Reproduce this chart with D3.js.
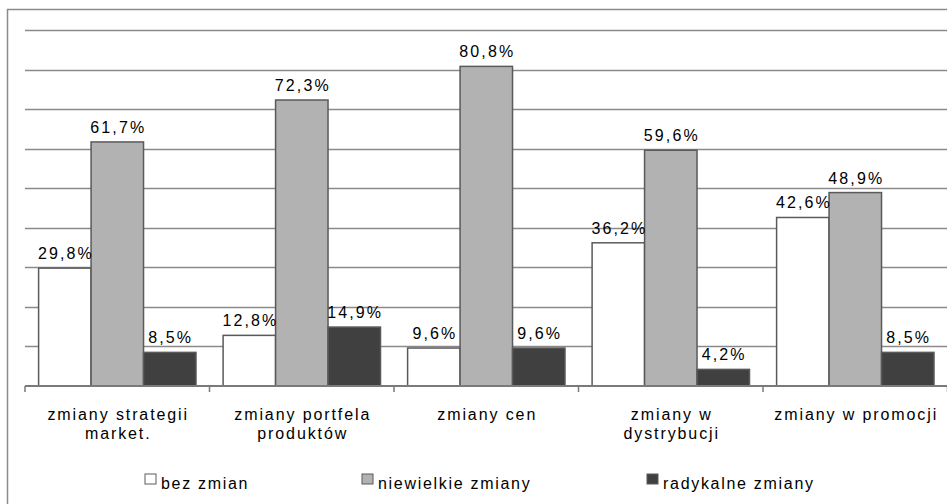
<!DOCTYPE html>
<html lang="pl">
<head>
  <meta charset="UTF-8">
  <title>Zmiany</title>
  <script src="https://d3js.org/d3.v7.min.js"></script>
  <style>
    body { margin: 0; background: #fff; }
    svg { display: block; font-family: "Liberation Sans", Arial, sans-serif; }
    .val { font-size: 16px; letter-spacing: 2.1px; fill: #000; }
    .cat { font-size: 16px; letter-spacing: 1.9px; fill: #000; }
    .leg { font-size: 16px; letter-spacing: 1.7px; fill: #000; }
  </style>
</head>
<body>
  <svg width="947" height="504"></svg>

  <script>
    // data
    const categories = [
      ["zmiany strategii", "market."],
      ["zmiany portfela", "produktów"],
      ["zmiany cen"],
      ["zmiany w", "dystrybucji"],
      ["zmiany w promocji"]
    ];
    const series = ["bez zmian", "niewielkie zmiany", "radykalne zmiany"];
    const bezZmian = [29.8, 12.8, 9.6, 36.2, 42.6];
    const niewielkie = [61.7, 72.3, 80.8, 59.6, 48.9];
    const radykalne = [8.5, 14.9, 9.6, 4.2, 8.5];
    const yTicks = [0, 10, 20, 30, 40, 50, 60, 70, 80, 90];

    const values = [bezZmian, niewielkie, radykalne];
    const fills = ["#ffffff", "#b2b2b2", "#404040"];
    const fmt = v => v.toFixed(1).replace(".", ",") + "%";

    const svg = d3.select("svg");

    // outer chart border (cropped on right and bottom)
    svg.append("rect")
      .attr("x", 7.5).attr("y", 9.5)
      .attr("width", 1000).attr("height", 600)
      .attr("fill", "none")
      .attr("stroke", "#8c8c8c")
      .attr("stroke-width", 1.5);

    const left = 25, band = 184.5;
    const catKeys = categories.map((c, i) => i);
    const x = d3.scaleBand()
      .domain(catKeys)
      .range([left, left + band * categories.length]);

    const xs = d3.scaleBand()
      .domain(series)
      .range([13.6, 171]);

    const y = d3.scaleLinear()
      .domain([0, 90])
      .range([386, 30]);

    // gridlines
    svg.append("g")
      .selectAll("line")
      .data(yTicks.slice(1))
      .join("line")
      .attr("x1", left).attr("x2", 960)
      .attr("y1", d => Math.round(y(d)) + 0.5)
      .attr("y2", d => Math.round(y(d)) + 0.5)
      .attr("stroke", "#8a8a8a")
      .attr("stroke-width", 1.5);

    // bars
    const groups = svg.append("g")
      .selectAll("g")
      .data(catKeys)
      .join("g")
      .attr("transform", i => `translate(${x(i)},0)`);

    groups.selectAll("rect")
      .data(i => series.map((s, k) => ({ s, k, v: values[k][i] })))
      .join("rect")
      .attr("x", d => xs(d.s))
      .attr("width", xs.bandwidth())
      .attr("y", d => y(d.v))
      .attr("height", d => y(0) - y(d.v))
      .attr("fill", d => fills[d.k])
      .attr("stroke", "#5a5a5a")
      .attr("stroke-width", 1.5);

    groups.selectAll("text.val")
      .data(i => series.map((s, k) => ({ s, k, v: values[k][i] })))
      .join("text")
      .attr("class", "val")
      .attr("x", d => xs(d.s) + xs.bandwidth() / 2 + 1)
      .attr("y", d => y(d.v) - 9)
      .attr("text-anchor", "middle")
      .text(d => fmt(d.v));

    // x axis
    const axis = svg.append("g")
      .attr("transform", `translate(0,${y(0)})`)
      .call(d3.axisBottom(x).tickSize(0).tickFormat(""));
    axis.select(".domain").remove();
    axis.append("line")
      .attr("x1", left).attr("x2", 960)
      .attr("stroke", "#7a7a7a").attr("stroke-width", 2);
    axis.selectAll(".bound")
      .data(d3.range(categories.length + 1))
      .join("line")
      .attr("class", "bound")
      .attr("x1", i => left + i * band).attr("x2", i => left + i * band)
      .attr("y1", 0).attr("y2", 6)
      .attr("stroke", "#7a7a7a").attr("stroke-width", 1.5);

    const labels = svg.append("g")
      .selectAll("text")
      .data(catKeys)
      .join("text")
      .attr("class", "cat")
      .attr("text-anchor", "middle")
      .attr("x", i => x(i) + band / 2)
      .attr("y", 420);
    labels.selectAll("tspan")
      .data(i => categories[i].map((t, j) => ({ t, j, i })))
      .join("tspan")
      .attr("x", d => x(d.i) + band / 2 + 1)
      .attr("dy", d => d.j === 0 ? 0 : 19)
      .text(d => d.t);

    // legend
    const legendX = [145, 362, 647];
    const legend = svg.append("g")
      .selectAll("g")
      .data(series)
      .join("g")
      .attr("transform", (s, k) => `translate(${legendX[k]},474)`);
    legend.append("rect")
      .attr("width", 11).attr("height", 10)
      .attr("fill", (s, k) => fills[k])
      .attr("stroke", "#5a5a5a")
      .attr("stroke-width", 1);
    legend.append("text")
      .attr("class", "leg")
      .attr("x", 16).attr("y", 15)
      .text(s => s);
  </script>
</body>
</html>
